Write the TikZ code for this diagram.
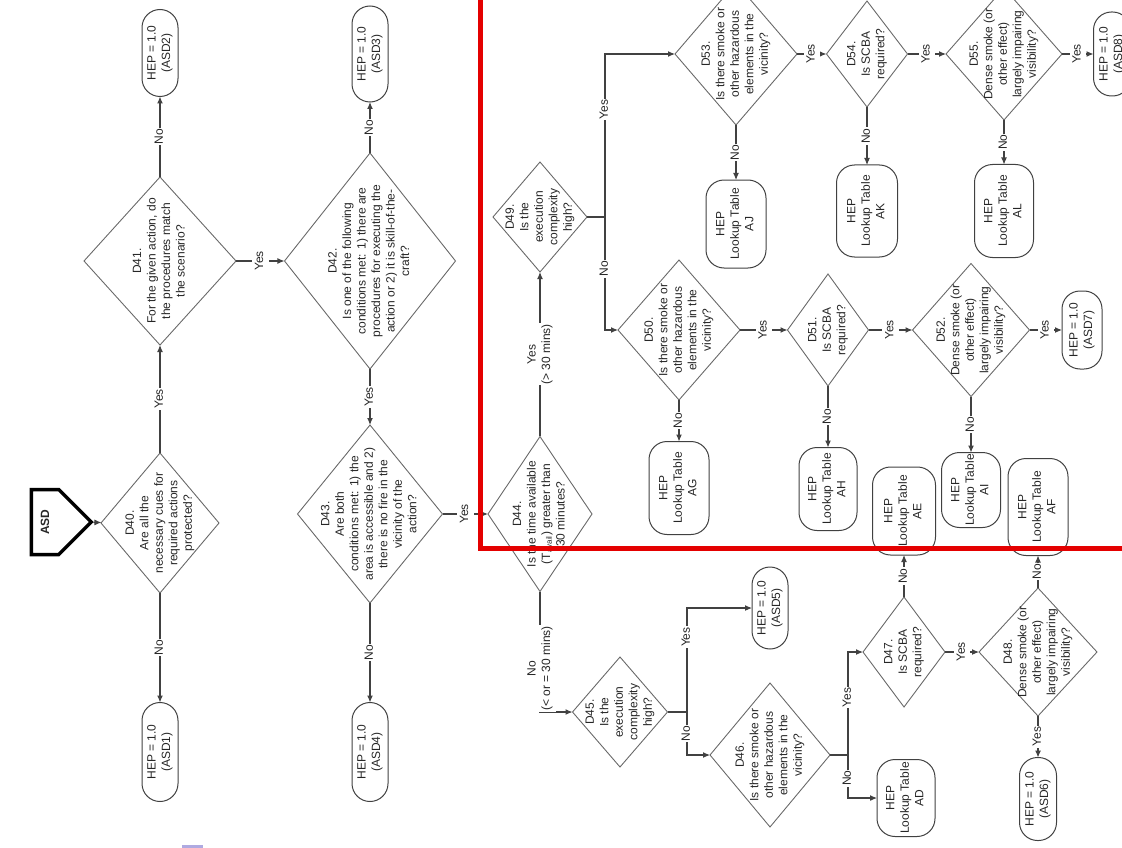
\documentclass[tikz,border=0pt]{standalone}
\usepackage{fontspec}
\setmainfont{Liberation Sans}
\usepackage{graphicx}
\usetikzlibrary{shapes.geometric, shapes.symbols, arrows.meta}

\definecolor{boxred}{RGB}{228,0,0}
\definecolor{linegray}{RGB}{65,65,65}
\definecolor{shapegray}{RGB}{105,105,105}
\definecolor{lavender}{RGB}{175,170,225}

% texte vertical (lu de bas en haut)
\newcommand{\vt}[1]{\rotatebox{90}{\begin{tabular}{@{}c@{}}#1\end{tabular}}}

\begin{document}
\begin{tikzpicture}[x=1pt, y=-1pt,
    every node/.style={font=\fontsize{12}{14.5}\selectfont, text=black!85},
    dec/.style 2 args={diamond, draw=shapegray, line width=0.9pt, inner sep=0pt, outer sep=0pt, minimum width=#1pt, minimum height=#2pt},
    term/.style 2 args={rectangle, rounded corners=18pt, draw=linegray, line width=1pt, inner sep=0pt, outer sep=0pt, minimum width=#1pt, minimum height=#2pt},
    lbl/.style={fill=white, inner sep=1pt},
    arr/.style={draw=linegray, line width=1.1pt, -{Latex[length=7pt, width=6pt]}},
    ln/.style={draw=linegray, line width=1.1pt}]
    \useasboundingbox (0,0) rectangle (1122,848);
    \clip (0,0) rectangle (1122,848);

    % --- Départ ---
    \node[signal, signal to=east, draw=black, line width=3.5pt, inner sep=0pt,
          minimum width=60pt, minimum height=65pt, font=\bfseries\fontsize{12}{14}\selectfont] (asd) at (45,522) {\rotatebox{90}{ASD}};

    % --- Décisions D40 à D44 ---
    \node[dec={118}{140}, label=center:{\vt{D40.\\Are all the\\necessary cues for\\required actions\\protected?}}] (d40) at (160,523) {};
    \node[dec={152}{168}, label=center:{\vt{D41.\\For the given action, do\\the procedures match\\the scenario?}}] (d41) at (160,261) {};
    \node[dec={171}{216}, label=center:{\vt{D42.\\Is one of the following\\conditions met: 1) there are\\procedures for executing the\\action or 2) it is skill-of-the-\\craft?}}] (d42) at (370,261) {};
    \node[dec={145}{178}, label=center:{\vt{D43.\\Are both\\conditions met: 1) the\\area is accessible and 2)\\there is no fire in the\\vicinity of the\\action?}}] (d43) at (370,514) {};
    \node[dec={104}{155}, label=center:{\vt{D44.\\Is the time available\\(T\textsubscript{avail}) greater than\\30 minutes?}}] (d44) at (540,514) {};

    % --- Branche T > 30 mins ---
    \node[dec={94}{110}, label=center:{\vt{D49.\\Is the\\execution\\complexity\\high?}}] (d49) at (540,217) {};
    \node[dec={122}{142}, label=center:{\vt{D53.\\Is there smoke or\\other hazardous\\elements in the\\vicinity?}}] (d53) at (736,54) {};
    \node[dec={81}{106}, label=center:{\vt{D54.\\Is SCBA\\required?}}] (d54) at (867,54) {};
    \node[dec={116}{132}, label=center:{\vt{D55.\\Dense smoke (or\\other effect)\\largely impairing\\visibility?}}] (d55) at (1004,54) {};
    \node[dec={122}{140}, label=center:{\vt{D50.\\Is there smoke or\\other hazardous\\elements in the\\vicinity?}}] (d50) at (679,330) {};
    \node[dec={81}{112}, label=center:{\vt{D51.\\Is SCBA\\required?}}] (d51) at (828,330) {};
    \node[dec={117}{133}, label=center:{\vt{D52.\\Dense smoke (or\\other effect)\\largely impairing\\visibility?}}] (d52) at (971,330) {};

    % --- Branche T <= 30 mins ---
    \node[dec={95}{110}, label=center:{\vt{D45.\\Is the\\execution\\complexity\\high?}}] (d45) at (620,712) {};
    \node[dec={120}{144}, label=center:{\vt{D46.\\Is there smoke or\\other hazardous\\elements in the\\vicinity?}}] (d46) at (770,755) {};
    \node[dec={82}{110}, label=center:{\vt{D47.\\Is SCBA\\required?}}] (d47) at (904,652) {};
    \node[dec={118}{128}, label=center:{\vt{D48.\\Dense smoke (or\\other effect)\\largely impairing\\visibility?}}] (d48) at (1038,652) {};

    % --- Terminaux HEP ---
    \node[term={36}{99}] (asd1) at (160,752) {\vt{HEP = 1.0\\(ASD1)}};
    \node[term={36}{87}] (asd2) at (160,53) {\vt{HEP = 1.0\\(ASD2)}};
    \node[term={36}{96}] (asd3) at (370,54) {\vt{HEP = 1.0\\(ASD3)}};
    \node[term={36}{99}] (asd4) at (370,752) {\vt{HEP = 1.0\\(ASD4)}};
    \node[term={36}{82}] (asd5) at (770,608) {\vt{HEP = 1.0\\(ASD5)}};
    \node[term={37}{83}] (asd6) at (1038,799) {\vt{HEP = 1.0\\(ASD6)}};
    \node[term={40}{78}] (asd7) at (1082,330) {\vt{HEP = 1.0\\(ASD7)}};
    \node[term={37}{84}] (asd8) at (1112,54) {\vt{HEP = 1.0\\(ASD8)}};
    \node[term={58}{77}] (ad) at (906,798) {\vt{HEP\\Lookup Table\\AD}};
    \node[term={63}{88}] (ae) at (904,511) {\vt{HEP\\Lookup Table\\AE}};
    \node[term={60}{97}] (af) at (1038,507) {\vt{HEP\\Lookup Table\\AF}};
    \node[term={60}{93}] (ag) at (679,488) {\vt{HEP\\Lookup Table\\AG}};
    \node[term={58}{83}] (ah) at (828,489) {\vt{HEP\\Lookup Table\\AH}};
    \node[term={59}{75}] (ai) at (971,490) {\vt{HEP\\Lookup Table\\AI}};
    \node[term={60}{88}] (aj) at (736,224) {\vt{HEP\\Lookup Table\\AJ}};
    \node[term={61}{92}] (ak) at (867,211) {\vt{HEP\\Lookup Table\\AK}};
    \node[term={59}{93}] (al) at (1004,211) {\vt{HEP\\Lookup Table\\AL}};

    % --- Points de branchement ---
    \coordinate (b45) at (687,712);
    \coordinate (b46) at (848,755);
    \coordinate (b49) at (605,217);

    % --- Liaisons colonnes de gauche ---
    \draw[arr] (asd) -- (d40);
    \draw[arr] (d40) -- node[lbl]{\vt{Yes}} (d41);
    \draw[arr] (d40) -- node[lbl]{\vt{No}} (asd1);
    \draw[arr] (d41) -- node[lbl]{\vt{No}} (asd2);
    \draw[arr] (d41) -- node[lbl]{\vt{Yes}} (d42);
    \draw[arr] (d42) -- node[lbl]{\vt{No}} (asd3);
    \draw[arr] (d42) -- node[lbl]{\vt{Yes}} (d43);
    \draw[arr] (d43) -- node[lbl]{\vt{No}} (asd4);
    \draw[arr] (d43) -- node[lbl]{\vt{Yes}} (d44);

    % --- Liaisons D44 ---
    \draw[arr] (d44) -- node[lbl]{\vt{Yes\\(> 30 mins)}} (d49);
    \draw[arr] (d44) |- node[lbl, pos=.32]{\vt{No\\(< or = 30 mins)}} (d45);

    % --- Liaisons D45 à D48 ---
    \draw[ln] (d45) -- (b45);
    \draw[arr] (b45) |- node[lbl, pos=.36]{\vt{Yes}} (asd5);
    \draw[arr] (b45) |- node[lbl, pos=.25]{\vt{No}} (d46);
    \draw[ln] (d46) -- (b46);
    \draw[arr] (b46) |- node[lbl, pos=.28]{\vt{Yes}} (d47);
    \draw[arr] (b46) |- node[lbl, pos=.27]{\vt{No}} (ad);
    \draw[arr] (d47) -- node[lbl]{\vt{No}} (ae);
    \draw[arr] (d47) -- node[lbl]{\vt{Yes}} (d48);
    \draw[arr] (d48) -- node[lbl]{\vt{No}} (af);
    \draw[arr] (d48) -- node[lbl]{\vt{Yes}} (asd6);

    % --- Liaisons D49 à D55 ---
    \draw[ln] (d49) -- (b49);
    \draw[arr] (b49) |- node[lbl, pos=.33]{\vt{Yes}} (d53);
    \draw[arr] (b49) |- node[lbl, pos=.23]{\vt{No}} (d50);
    \draw[arr] (d53) -- node[lbl]{\vt{Yes}} (d54);
    \draw[arr] (d54) -- node[lbl]{\vt{Yes}} (d55);
    \draw[arr] (d55) -- node[lbl]{\vt{Yes}} (asd8);
    \draw[arr] (d53) -- node[lbl]{\vt{No}} (aj);
    \draw[arr] (d54) -- node[lbl]{\vt{No}} (ak);
    \draw[arr] (d55) -- node[lbl]{\vt{No}} (al);
    \draw[arr] (d50) -- node[lbl]{\vt{Yes}} (d51);
    \draw[arr] (d51) -- node[lbl]{\vt{Yes}} (d52);
    \draw[arr] (d52) -- node[lbl]{\vt{Yes}} (asd7);
    \draw[arr] (d50) -- node[lbl]{\vt{No}} (ag);
    \draw[arr] (d51) -- node[lbl]{\vt{No}} (ah);
    \draw[arr] (d52) -- node[lbl]{\vt{No}} (ai);

    % --- Cadre rouge ---
    \draw[boxred, line width=5pt] (480,-10) -- (480,548) -- (1132,548);
    \fill[lavender] (182,845) rectangle (203,848);
\end{tikzpicture}
\end{document}
